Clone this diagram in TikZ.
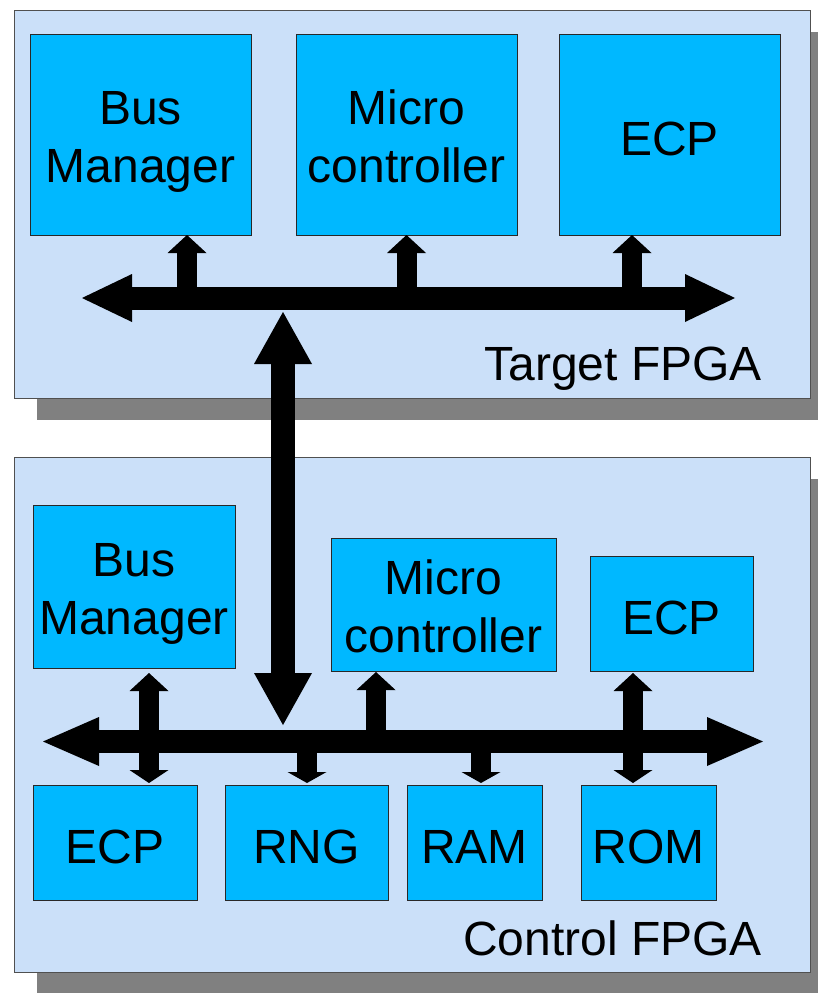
\documentclass[tikz,border=0pt]{standalone}
\usepackage{fontspec}
\setmainfont{Liberation Sans}
\usetikzlibrary{arrows.meta}
\tikzstyle{pixelGrid} = [x = 1pt, y = -1pt]
\definecolor{panelBlue}{RGB}{203,224,249}
\definecolor{panelBorder}{RGB}{80,80,80}
\definecolor{shadowGray}{RGB}{128,128,128}
\definecolor{blockBlue}{RGB}{0,184,255}
\definecolor{blockBorder}{RGB}{40,40,40}
\newcommand{\blockFont}{\fontsize{48}{58}\selectfont}
\tikzstyle{panelStyle} = [fill=panelBlue, draw=panelBorder, line width=1pt]
\tikzstyle{shadowStyle} = [fill=shadowGray]
\tikzstyle{blockStyle} = [draw=blockBorder, fill=blockBlue, line width=1pt, inner sep=0pt, outer sep=0pt, align=center, font=\blockFont, text height=42pt, text depth=0pt]
\tikzstyle{twoLine} = [text height=105pt, text depth=10pt]
\tikzstyle{labelStyle} = [inner sep=0pt, font=\blockFont, anchor=base east]
\tikzstyle{topBus} = [line width=23pt, {Triangle[length=50pt,width=48pt,line width=0pt]}-{Triangle[length=50pt,width=48pt,line width=0pt]}]
\tikzstyle{bottomBus} = [line width=23pt, {Triangle[length=56pt,width=49pt,line width=0pt]}-{Triangle[length=56pt,width=49pt,line width=0pt]}]
\tikzstyle{linkArrow} = [line width=24pt, {Triangle[length=52pt,width=58pt,line width=0pt]}-{Triangle[length=52pt,width=58pt,line width=0pt]}]
\tikzstyle{stubUp} = [line width=20pt, -{Triangle[length=18pt,width=39pt,line width=0pt]}]
\tikzstyle{stubDown} = [line width=20pt, -{Triangle[length=11pt,width=39pt,line width=0pt]}]
\tikzstyle{stubBoth} = [line width=20pt, {Triangle[length=18pt,width=39pt,line width=0pt]}-{Triangle[length=13pt,width=39pt,line width=0pt]}]
\newcommand{\fpgaPanel}[4]{
  \fill [shadowStyle] (#1 + 23, #2 + 22) rectangle (#3 + 23, #4 + 22);
  \filldraw [panelStyle] (#1, #2) rectangle (#3, #4);
}
\begin{document}
\begin{tikzpicture}[pixelGrid]
\useasboundingbox (0,0) rectangle (818,993);
\fpgaPanel{14}{10}{810}{398}
\fpgaPanel{14}{457}{810}{972}

% target FPGA
\node [blockStyle, twoLine, minimum width=221pt, minimum height=201pt] (tBus) at (140.5,134.5) {Bus\\Manager};
\node [blockStyle, twoLine, minimum width=221pt, minimum height=201pt] (tMicro) at (406.5,134.5) {Micro\\controller};
\node [blockStyle, minimum width=221pt, minimum height=201pt] (tEcp) at (669.5,134.5) {ECP};
\node [labelStyle] (targetLabel) at (762,380) {Target FPGA};

% control FPGA
\node [blockStyle, twoLine, minimum width=202pt, minimum height=163pt] (cBus) at (134,586.5) {Bus\\Manager};
\node [blockStyle, twoLine, minimum width=225pt, minimum height=133pt] (cMicro) at (443.5,604.5) {Micro\\controller};
\node [blockStyle, minimum width=163pt, minimum height=115pt] (cEcpTop) at (671.5,613.5) {ECP};
\node [blockStyle, minimum width=164pt, minimum height=115pt] (cEcp) at (115,842.5) {ECP};
\node [blockStyle, minimum width=163pt, minimum height=115pt] (cRng) at (306.5,842.5) {RNG};
\node [blockStyle, minimum width=135pt, minimum height=115pt] (cRam) at (474.5,842.5) {RAM};
\node [blockStyle, minimum width=135pt, minimum height=115pt] (cRom) at (648.5,842.5) {ROM};
\node [labelStyle] (controlLabel) at (762,955) {Control FPGA};

% bus ends and pins
\coordinate (tLineL) at (82,298);
\coordinate (tLineR) at (735,298);
\coordinate (cLineL) at (43,741.5);
\coordinate (cLineR) at (763,741.5);
\coordinate (tBusPin) at ([xshift=46.5pt]tBus.south);
\coordinate (tEcpPin) at ([xshift=-37.5pt]tEcp.south);
\coordinate (cBusPin) at (149,673);
\coordinate (cEcpPin) at (149,783);
\coordinate (cMicroPin) at (376,672);
\coordinate (cRngPin) at (307,783);
\coordinate (cRamPin) at (481,783);
\coordinate (cEcpTopPin) at (633,673);
\coordinate (cRomPin) at (633,783);
\coordinate (linkTop) at (283,312);
\coordinate (linkBottom) at (283,725);

% target bus
\draw [stubUp] (tBusPin |- tLineL) -- (tBusPin);
\draw [stubUp] (tMicro.south |- tLineL) -- (tMicro.south);
\draw [stubUp] (tEcpPin |- tLineL) -- (tEcpPin);
\draw [topBus] (tLineL) -- (tLineR);

% control bus
\draw [stubBoth] (cBusPin) -- (cEcpPin);
\draw [stubUp] (cMicroPin |- cLineL) -- (cMicroPin);
\draw [stubDown] (cRngPin |- cLineL) -- (cRngPin);
\draw [stubDown] (cRamPin |- cLineL) -- (cRamPin);
\draw [stubBoth] (cEcpTopPin) -- (cRomPin);
\draw [bottomBus] (cLineL) -- (cLineR);

\draw [linkArrow] (linkTop) -- (linkBottom);
\end{tikzpicture}
\end{document}
